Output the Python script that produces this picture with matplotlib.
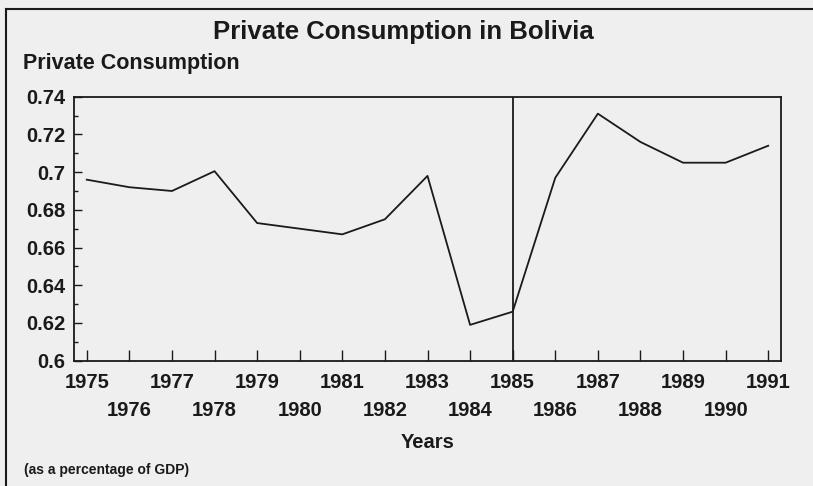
import matplotlib
matplotlib.use("Agg")
import matplotlib.pyplot as plt
from matplotlib.lines import Line2D
import numpy as np

years = [1975, 1976, 1977, 1978, 1979, 1980, 1981, 1982, 1983,
         1984, 1985, 1986, 1987, 1988, 1989, 1990, 1991]
consumption = [0.696, 0.692, 0.690, 0.7005, 0.673, 0.670, 0.667, 0.675, 0.698,
               0.619, 0.626, 0.697, 0.731, 0.716, 0.705, 0.705, 0.714]
yticks = [0.6, 0.62, 0.64, 0.66, 0.68, 0.7, 0.72, 0.74]
ytick_labels = ["0.6", "0.62", "0.64", "0.66", "0.68", "0.7", "0.72", "0.74"]
marker_year = 1985

title = "Private Consumption in Bolivia"
ylabel = "Private Consumption"
xlabel = "Years"
note = "(as a percentage of GDP)"

plt.rcParams['font.family'] = ['Liberation Sans', 'DejaVu Sans']
bg = '#efefef'
ink = '#1a1a1a'

fig = plt.figure(figsize=(8.13, 4.86), dpi=100, facecolor=bg)
ax = fig.add_axes([74/813, 1-360.7/486, (781-74)/813, (360.7-96.7)/486])
ax.set_facecolor(bg)

ax.plot(years, consumption, color=ink, lw=1.3)
ax.axvline(marker_year, color=ink, lw=1.3)

ax.set_xlim(1974.70, 1991.30)
ax.set_ylim(0.6, 0.74)

ax.set_yticks(yticks)
ax.set_yticklabels(ytick_labels, fontsize=14.5, fontweight='bold', color=ink)
ax.set_yticks(np.arange(0.6, 0.7401, 0.01), minor=True)
ax.set_xticks(years)
xlabels = [str(y) if (y % 2 == 1) else "\n" + str(y) for y in years]
ax.set_xticklabels(xlabels, fontsize=14.5, fontweight='bold', color=ink, linespacing=1.6)

ax.tick_params(axis='y', which='major', direction='in', length=6, width=1, pad=6, colors=ink)
ax.tick_params(axis='y', which='minor', direction='in', length=3, width=1, colors=ink)
ax.tick_params(axis='x', which='major', direction='in', length=8, width=1, pad=9, colors=ink)

for s in ax.spines.values():
    s.set_linewidth(1.3)
    s.set_color(ink)

fig.text(403/813, 1-32/486, title, ha='center', va='center', fontsize=18.5,
         fontweight='bold', color=ink)
fig.text(23/813, 1-63/486, ylabel, ha='left', va='center', fontsize=15.5,
         fontweight='bold', color=ink)
fig.text(428/813, 1-442/486, xlabel, ha='center', va='center', fontsize=14.5,
         fontweight='bold', color=ink)
fig.text(24/813, 1-470/486, note, ha='left', va='center', fontsize=10,
         fontweight='bold', color=ink)

# outer frame (left and top edges)
fig.add_artist(Line2D([6/813, 6/813], [0, 1-9/486], transform=fig.transFigure,
                      color=ink, lw=1.5))
fig.add_artist(Line2D([6/813, 1], [1-9/486, 1-9/486], transform=fig.transFigure,
                      color=ink, lw=1.5))

fig.savefig("out.png", dpi=100, facecolor=bg)
